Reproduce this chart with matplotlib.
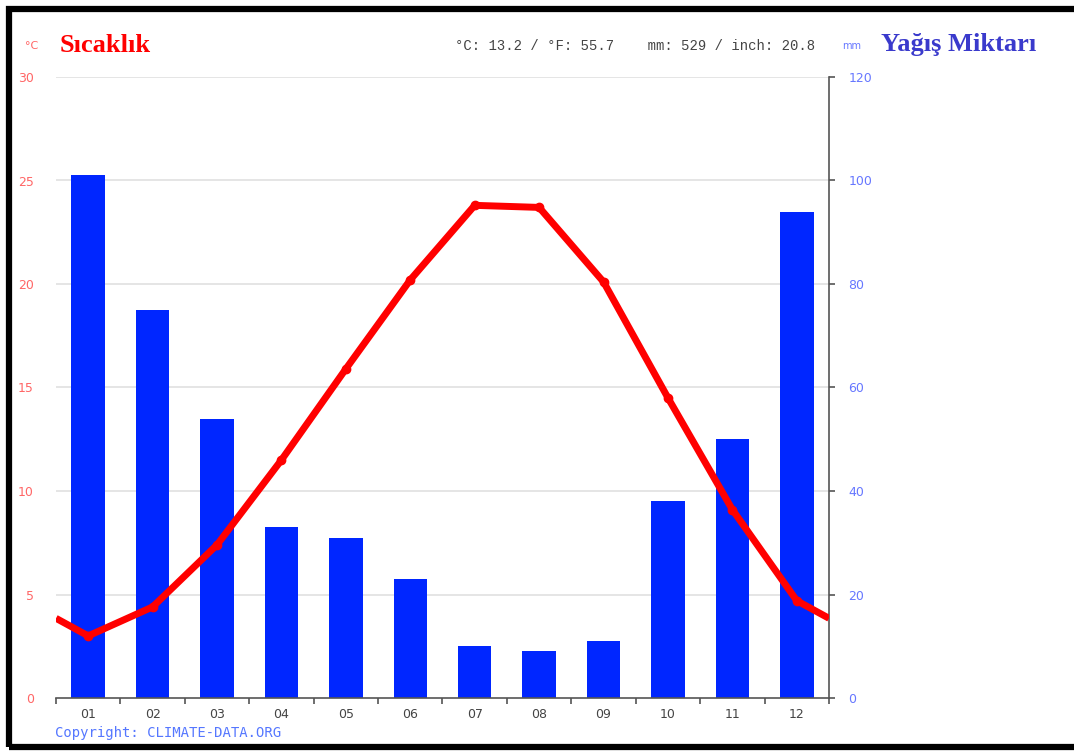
import numpy as np
import matplotlib
matplotlib.use("Agg")
import matplotlib.pyplot as plt
from matplotlib.patches import Rectangle

months = ["01", "02", "03", "04", "05", "06", "07", "08", "09", "10", "11", "12"]
precip_mm = [101, 75, 54, 33, 31, 23, 10, 9, 11, 38, 50, 94]
temp_c = [3.0, 4.4, 7.4, 11.5, 15.9, 20.2, 23.8, 23.7, 20.1, 14.5, 9.1, 4.7]
temp_ticks = [0, 5, 10, 15, 20, 25, 30]
precip_ticks = [0, 20, 40, 60, 80, 100, 120]

fig = plt.figure(figsize=(10.74, 7.51), dpi=100)
ax = fig.add_axes([56 / 1074, 1 - 698 / 751, 773 / 1074, 621 / 751])
ax2 = ax.twinx()

x = np.arange(1, 13)

# bars on the precipitation axis
ax2.bar(x, precip_mm, width=0.52, color="#0026ff", zorder=2)
ax2.set_ylim(0, 120)
ax2.set_yticks(precip_ticks)
ax2.tick_params(axis="y", labelcolor="#6677ff", color="#555555", labelsize=9,
                length=4, width=1.2, pad=10)

# temperature line, wrapping to the edges
edge = (temp_c[0] + temp_c[-1]) / 2
xl = np.concatenate([[0.5], x, [12.5]])
yl = np.concatenate([[edge], temp_c, [edge]])
ax.set_zorder(ax2.get_zorder() + 1)
ax.patch.set_visible(False)
ax.plot(xl, yl, color="#ff0000", lw=5, solid_capstyle="butt", zorder=3)
ax.plot(x, temp_c, "o", color="#ff0000", ms=6, zorder=4)
ax.set_ylim(0, 30)
ax.set_xlim(0.5, 12.5)
ax2.set_xlim(0.5, 12.5)
ax.set_yticks(temp_ticks)
ax.tick_params(axis="y", length=0, labelsize=9, labelcolor="#ff6666", pad=16)

# grid
for t in precip_ticks[1:]:
    ax2.axhline(t, color="#e0e0e0", lw=1.2, zorder=1)

# x axis
ax.set_xticks(x)
ax.set_xticklabels(months)
ax.set_xticks(np.arange(0.5, 13, 1), minor=True)
ax.tick_params(axis="x", which="major", length=0, labelsize=9, labelcolor="#444444", pad=7)
ax.tick_params(axis="x", which="minor", length=4, width=1.2, color="#555555")

for a in (ax, ax2):
    for s in a.spines.values():
        s.set_visible(False)
ax2.spines["right"].set_visible(True)
ax2.spines["right"].set_color("#555555")
ax2.spines["right"].set_linewidth(1.2)
ax.spines["bottom"].set_visible(True)
ax.spines["bottom"].set_color("#555555")
ax.spines["bottom"].set_linewidth(1.2)

# header texts
fig.text(32 / 1074, 1 - 46 / 751, "°C", color="#ff6666", fontsize=8, va="center", ha="center")
fig.text(60 / 1074, 1 - 46 / 751, "Sıcaklık", color="#ff0000", fontsize=19,
         family="Liberation Serif", weight="bold", va="center")
fig.text(815 / 1074, 1 - 46 / 751, "°C: 13.2 / °F: 55.7    mm: 529 / inch: 20.8",
         color="#444444", fontsize=10, family="Liberation Mono", va="center", ha="right")
fig.text(852 / 1074, 1 - 46 / 751, "mm", color="#6677ff", fontsize=7, va="center", ha="center")
fig.text(881 / 1074, 1 - 45 / 751, "Yağış Miktarı", color="#3a3acc", fontsize=19,
         family="Liberation Serif", weight="bold", va="center")
fig.text(55 / 1074, 1 - 733 / 751, "Copyright: CLIMATE-DATA.ORG", color="#5577ff",
         fontsize=10, family="DejaVu Sans Mono", va="center")

# black frame
fig.patches.append(Rectangle((9 / 1074, 4 / 751), 1.2, 1 - 13 / 751, transform=fig.transFigure,
                             fill=False, edgecolor="black", lw=4.5, figure=fig))

fig.savefig("out.png", dpi=100)
